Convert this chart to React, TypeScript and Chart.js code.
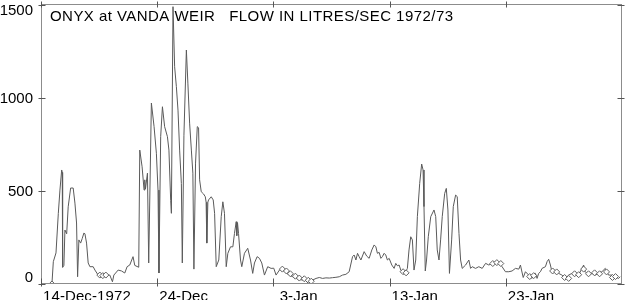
import { useEffect, useRef } from "react";
import { Chart, registerables } from "chart.js";

Chart.register(...registerables);

const TITLE = "ONYX at VANDA WEIR   FLOW IN LITRES/SEC 1972/73";

// x axis: days since 14-Dec-1972
const tickDays = [0, 10, 20, 30, 40];
const tickLabels = ["14-Dec-1972", "24-Dec", " 3-Jan", "13-Jan", "23-Jan"];
const yTicks = [0, 500, 1000, 1500];

const days = [
  0.94, 1.06, 1.29, 1.49, 1.63, 1.78, 1.83, 1.86, 1.97, 2.06, 2.21, 2.34, 2.55, 2.77, 2.92, 3.06, 3.15, 3.26, 3.41, 3.55,
  3.69, 3.78, 3.92, 4.06, 4.21, 4.49, 4.64, 4.92, 5.06, 5.32, 5.64, 5.92, 6.15, 6.27, 6.64, 6.93, 7.21, 7.41, 7.64, 7.92,
  8.07, 8.41, 8.5, 8.7, 8.87, 8.93, 8.99, 9.16, 9.27, 9.5, 9.73, 9.93, 10.07, 10.15, 10.3, 10.45, 10.64, 10.88, 11.01, 11.16,
  11.22, 11.36, 11.5, 11.65, 11.79, 11.93, 12.08, 12.16, 12.3, 12.51, 12.64, 12.79, 12.94, 13.07, 13.16, 13.3, 13.45, 13.56, 13.65, 13.79,
  13.99, 14.14, 14.21, 14.27, 14.36, 14.42, 14.65, 14.82, 14.94, 15.08, 15.3, 15.51, 15.65, 15.79, 15.94, 16.08, 16.31, 16.51, 16.65, 16.8,
  16.85, 16.91, 17.0, 17.17, 17.28, 17.51, 17.79, 18.03, 18.22, 18.37, 18.6, 18.8, 19.0, 19.23, 19.51, 19.8, 20.03, 20.23, 20.52, 20.8,
  21.09, 21.37, 21.66, 21.95, 22.23, 22.52, 22.81, 23.09, 23.37, 23.67, 23.95, 24.23, 24.52, 24.81, 25.09, 25.38, 25.67, 25.95, 26.24, 26.52,
  26.81, 26.95, 27.1, 27.24, 27.38, 27.53, 27.81, 28.03, 28.24, 28.47, 28.67, 28.82, 28.95, 29.1, 29.25, 29.38, 29.53, 29.67, 29.81, 29.96,
  30.19, 30.39, 30.53, 30.67, 30.82, 30.96, 31.1, 31.24, 31.39, 31.53, 31.67, 31.82, 31.96, 32.1, 32.25, 32.39, 32.59, 32.76, 32.88, 32.96,
  33.07, 33.18, 33.33, 33.54, 33.82, 33.97, 34.1, 34.25, 34.39, 34.53, 34.74, 34.88, 35.02, 35.15, 35.34, 35.48, 35.68, 35.82, 35.97, 36.11,
  36.25, 36.54, 36.82, 36.97, 37.11, 37.4, 37.68, 37.97, 38.26, 38.54, 38.82, 39.12, 39.4, 39.68, 39.97, 40.26, 40.54, 40.83, 41.12, 41.26,
  41.37, 41.5, 41.69, 41.97, 42.26, 42.4, 42.55, 42.69, 42.83, 42.98, 43.12, 43.41, 43.55, 43.69, 43.84, 43.97, 44.12, 44.27, 44.55, 44.83,
  45.12, 45.41, 45.69, 45.98, 46.27, 46.55, 46.7, 46.84, 47.12, 47.41, 47.7, 47.98, 48.27, 48.56, 48.84, 49.12, 49.42, 49.7, 49.85,
];

const flow = [
  0, 120, 167, 380, 505, 613, 600, 90, 100, 290, 270, 415, 516, 516, 435, 328, 39, 237, 220, 245,
  274, 270, 220, 113, 93, 93, 75, 48, 50, 45, 48, 48, 12, 48, 75, 70, 59, 93, 102, 147,
  100, 90, 720, 630, 505, 560, 510, 596, 113, 973, 846, 703, 505, 59, 792, 953, 846, 792, 720, 450,
  380, 1491, 1168, 1061, 935, 720, 540, 113, 800, 1258, 1080, 865, 720, 596, 80, 650, 846, 840, 560, 496,
  484, 469, 440, 220, 440, 452, 469, 452, 380, 93, 129, 362, 442, 380, 93, 165, 200, 200, 272, 335,
  260, 330, 272, 129, 93, 165, 192, 129, 57, 113, 147, 138, 113, 48, 93, 84, 85, 48, 75, 81,
  60, 48, 39, 30, 25, 21, 25, 12, 21, 30, 35, 30, 33, 32, 34, 36, 39, 48, 52, 66,
  147, 156, 129, 165, 147, 129, 174, 150, 138, 183, 210, 200, 165, 170, 138, 147, 165, 156, 129, 138,
  102, 84, 111, 98, 102, 75, 66, 57, 66, 84, 183, 254, 237, 75, 129, 362, 541, 645, 613, 416,
  70, 129, 254, 362, 398, 362, 183, 129, 237, 362, 487, 514, 398, 57, 237, 416, 478, 470, 272, 129,
  84, 102, 129, 84, 93, 84, 93, 84, 111, 102, 111, 120, 111, 93, 66, 66, 70, 84, 80, 102,
  70, 35, 66, 48, 30, 48, 57, 30, 57, 66, 84, 93, 120, 133, 102, 66, 75, 66, 57, 48,
  30, 48, 57, 57, 48, 84, 102, 66, 48, 57, 48, 57, 66, 84, 48, 48, 39, 30, 39,
];

// readings marked with open diamonds
const flagDays = [
  0.94, 5.06, 5.32, 5.58, 20.77, 21.12, 21.46, 21.89, 22.23, 22.66, 23.0, 23.26, 31.16, 31.42, 38.88, 39.23,
  39.57, 42.06, 42.4, 44.03, 44.38, 45.06, 45.41, 45.92, 46.27, 46.7, 47.12, 47.64, 48.07, 48.67, 49.18, 49.44,
];
const flagFlow = [
  0, 48, 45, 48, 80, 70, 55, 42, 32, 28, 20, 15, 66, 60, 110, 115,
  110, 40, 45, 70, 65, 35, 30, 55, 50, 80, 55, 60, 55, 65, 35, 40,
];

const FONT = '15px "Liberation Sans", Arial, sans-serif';

export default function App() {
  const ref = useRef<HTMLCanvasElement>(null);

  useEffect(() => {
    if (!ref.current) return;
    const framePlugin = {
      id: "frameAndLabels",
      afterDraw(chart: any) {
        const { ctx, chartArea: a, scales } = chart;
        const xs = scales.x;
        const ys = scales.y;
        const L = Math.round(a.left) + 0.5;
        const R = Math.round(a.right) - 0.5;
        const T = Math.round(a.top) - 0.5;
        const B = Math.round(a.bottom) - 0.5;
        ctx.save();
        ctx.lineWidth = 1;
        ctx.strokeStyle = "#8c8c8c";
        ctx.strokeRect(L, T, R - L, B - T);
        ctx.strokeStyle = "#555555";
        ctx.beginPath();
        for (const d of tickDays) {
          const px = Math.round(xs.getPixelForValue(d)) + 0.5;
          ctx.moveTo(px, T - 3);
          ctx.lineTo(px, T + 3);
          ctx.moveTo(px, B - 5);
          ctx.lineTo(px, B + 3);
        }
        for (const v of yTicks) {
          const py = Math.round(ys.getPixelForValue(v)) + 0.5;
          ctx.moveTo(L - 3, py);
          ctx.lineTo(L + 4, py);
          ctx.moveTo(R - 4, py);
          ctx.lineTo(R + 3, py);
        }
        ctx.stroke();

        ctx.fillStyle = "#000";
        ctx.font = FONT;
        ctx.textBaseline = "alphabetic";
        ctx.textAlign = "right";
        for (const v of yTicks) {
          const py = ys.getPixelForValue(v);
          const base = Math.min(Math.max(py + 5, a.top + 9.5), a.bottom - 2.5);
          ctx.fillText(String(v), a.left - 8, base);
        }
        ctx.textAlign = "left";
        ctx.letterSpacing = "0.1px";
        tickDays.forEach((d, i) => {
          ctx.fillText(tickLabels[i], xs.getPixelForValue(d) + 2, a.bottom + 17);
        });
        ctx.letterSpacing = "0.45px";
        ctx.fillText(TITLE, a.left + 9, a.top + 16);
        ctx.restore();
      },
    };

    const chart = new Chart(ref.current, {
      type: "line",
      data: {
        datasets: [
          {
            label: "flagged",
            data: flagDays.map((d, i) => ({ x: d, y: flagFlow[i] })),
            showLine: false,
            pointStyle: "rectRot",
            pointRadius: 3,
            borderWidth: 1,
            borderColor: "#606060",
            backgroundColor: "#ffffff",
          },
          {
            label: "flow",
            data: days.map((d, i) => ({ x: d, y: flow[i] })),
            borderColor: "#5a5a5a",
            borderWidth: 1,
            pointRadius: 0,
            tension: 0,
            fill: false,
          },
        ],
      },
      options: {
        animation: false,
        responsive: false,
        layout: { padding: { left: 41, right: 4, top: 5, bottom: 16 } },
        scales: {
          x: { type: "linear", min: 0, max: 50, display: false },
          y: { type: "linear", min: 0, max: 1500, display: false },
        },
        plugins: { legend: { display: false }, tooltip: { enabled: false } },
      },
      plugins: [framePlugin],
    });
    return () => chart.destroy();
  }, []);

  return (
    <div style={{ position: "fixed", left: 0, top: 0, width: 627, height: 300, background: "#fff" }}>
      <canvas ref={ref} width={627} height={300} style={{ display: "block" }} />
    </div>
  );
}
